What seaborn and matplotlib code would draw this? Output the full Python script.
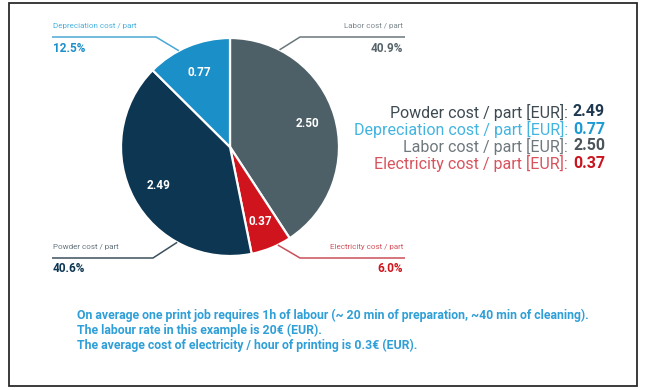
import matplotlib
matplotlib.use('Agg')
import matplotlib.pyplot as plt
import matplotlib.patches as mpatches
import seaborn as sns
import numpy as np

sns.set_theme(style='white')
plt.rcParams['font.family'] = ['Roboto', 'DejaVu Sans']

W, H = 645, 390

# Data (clockwise from 12 o'clock)
categories = ['Labor cost / part', 'Electricity cost / part',
              'Powder cost / part', 'Depreciation cost / part']
costs = [2.50, 0.37, 2.49, 0.77]
pct_labels = ['40.9%', '6.0%', '40.6%', '12.5%']
legend_order = ['Powder cost / part', 'Depreciation cost / part',
                'Labor cost / part', 'Electricity cost / part']
notes = [
    'On average one print job requires 1h of labour (~ 20 min of preparation, ~40 min of cleaning).',
    'The labour rate in this example is 20\u20ac (EUR).',
    'The average cost of electricity / hour of printing is 0.3\u20ac (EUR).',
]

# Styling
wedge_colors = ['#4e6067', '#d0141d', '#0c3652', '#1b8fc8']
label_colors = ['#7c878c', '#d2545d', '#65757e', '#4ab2de']
line_colors = ['#6a777d', '#c9505a', '#3c4f5b', '#4ba8d6']
legend_colors = {'Powder cost / part': ('#3e4b53', '#1f3a50'),
                 'Depreciation cost / part': ('#43b4e0', '#1c9ad3'),
                 'Labor cost / part': ('#6f787d', '#4b555b'),
                 'Electricity cost / part': ('#d9535d', '#c9151f')}
note_color = '#2f9fd7'

# layout in pixels (y measured from the top)
cx, cy, rad = 230, 147, 109
callouts = {
    'Labor cost / part': dict(side='right', x0=300, x1=405, ly=37, ty=26, py=48, ang=63),
    'Electricity cost / part': dict(side='right', x0=300, x1=405, ly=258, ty=247, py=269, ang=-64),
    'Powder cost / part': dict(side='left', x0=52, x1=153, ly=258, ty=247, py=269, ang=-119),
    'Depreciation cost / part': dict(side='left', x0=52, x1=156, ly=37, ty=26, py=48, ang=118),
}

def Y(y):
    return H - y

fig = plt.figure(figsize=(W / 100, H / 100), dpi=100)
ax = fig.add_axes([0, 0, 1, 1])

total = sum(costs)
wedges, texts, autotexts = ax.pie(
    costs, colors=wedge_colors, startangle=90, counterclock=False,
    center=(cx, Y(cy)), radius=rad, frame=True,
    autopct=lambda p: f'{p * total / 100:.2f}', pctdistance=0.74,
    wedgeprops=dict(edgecolor='white', linewidth=1.6),
    textprops=dict(color='white', fontsize=8.5, fontweight='bold'))
ax.set_xlim(0, W)
ax.set_ylim(0, H)
ax.axis('off')

# callout labels with leader lines
for i, cat in enumerate(categories):
    c = callouts[cat]
    a = np.deg2rad(c['ang'])
    axp, ayp = cx + rad * np.cos(a), Y(cy) + rad * np.sin(a)
    if c['side'] == 'right':
        xs = [axp, c['x0'], c['x1']]
        tx, ha = c['x1'] - 2, 'right'
    else:
        xs = [axp, c['x1'], c['x0']]
        tx, ha = c['x0'] + 1, 'left'
    ax.plot(xs, [ayp, Y(c['ly']), Y(c['ly'])], color=line_colors[i], lw=1.1,
            solid_capstyle='butt')
    ax.text(tx, Y(c['ty']), cat, ha=ha, va='center', fontsize=5.8,
            color=label_colors[i])
    ax.text(tx, Y(c['py']), pct_labels[i], ha=ha, va='center', fontsize=8.5,
            fontweight='bold', color=wedge_colors[i] if i != 0 else '#56646a')

# legend-like summary on the right
fig.canvas.draw()
renderer = fig.canvas.get_renderer()
for k, cat in enumerate(legend_order):
    val = costs[categories.index(cat)]
    lc, vc = legend_colors[cat]
    y = Y(112 + k * 17)
    vt = ax.text(605, y, f'{val:.2f}', ha='right', va='center', fontsize=11.5,
                 fontweight='bold', color=vc)
    w = vt.get_window_extent(renderer).width
    ax.text(605 - w - 5, y, f'{cat} [EUR]:', ha='right', va='center',
            fontsize=11.5, color=lc)

# notes
for k, line in enumerate(notes):
    ax.text(77, Y(315 + k * 15), line, ha='left', va='center', fontsize=8.85,
            fontweight='bold', color=note_color)

# outer frame
frame = mpatches.Rectangle((9, Y(386)), 628, 383, fill=False,
                           edgecolor='#2b2b2b', linewidth=1.3)
ax.add_patch(frame)

fig.savefig('out.png', dpi=100)
